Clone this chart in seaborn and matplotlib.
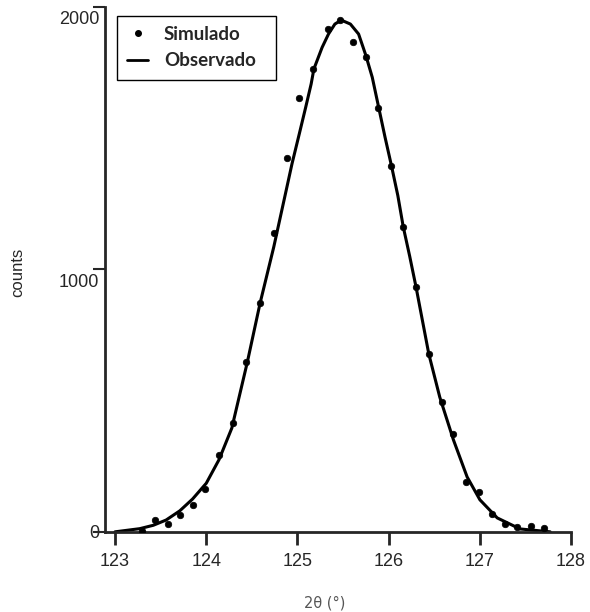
import matplotlib
matplotlib.use('Agg')
import matplotlib.pyplot as plt
import matplotlib.transforms as mtransforms
from matplotlib.lines import Line2D
import seaborn as sns
import pandas as pd

# ── Data ──────────────────────────────────────────────────────────────────────
sim_theta = [123.30, 123.44, 123.58, 123.71, 123.86, 123.99, 124.14, 124.29,
             124.44, 124.59, 124.74, 124.88, 125.02, 125.17, 125.33, 125.47,
             125.61, 125.75, 125.88, 126.03, 126.16, 126.30, 126.44, 126.58,
             126.71, 126.85, 126.99, 127.13, 127.28, 127.41, 127.56, 127.70]
sim_counts = [4, 46, 30, 65, 103, 163, 293, 414,
              646, 871, 1137, 1422, 1654, 1764, 1916, 1951,
              1867, 1810, 1616, 1392, 1160, 932, 677, 494,
              373, 190, 152, 68, 30, 19, 23, 15]

obs_theta = [123.00, 123.27, 123.42, 123.56, 123.71, 123.85, 124.00, 124.14,
             124.28, 124.45, 124.59, 124.74, 124.86, 124.94, 125.02, 125.09,
             125.15, 125.18, 125.27, 125.34, 125.41, 125.48, 125.58, 125.67,
             125.72, 125.75, 125.82, 125.89, 125.96, 126.03, 126.10, 126.16,
             126.23, 126.30, 126.44, 126.56, 126.71, 126.86, 127.00, 127.19,
             127.44, 127.77]
obs_counts = [0, 12, 25, 45, 80, 125, 185, 275,
              395, 646, 871, 1085, 1275, 1402, 1516, 1617,
              1706, 1763, 1845, 1896, 1934, 1949, 1934, 1896,
              1845, 1814, 1731, 1617, 1503, 1395, 1281, 1161,
              1050, 932, 677, 513, 350, 209, 122, 53,
              11, 0]

x_ticks = [123, 124, 125, 126, 127, 128]
y_ticks = [0, 1000, 2000]

sim = pd.DataFrame({'theta': sim_theta, 'counts': sim_counts})
obs = pd.DataFrame({'theta': obs_theta, 'counts': obs_counts})

# ── Figure ────────────────────────────────────────────────────────────────────
sns.set_style('ticks')
plt.rcParams['font.family'] = ['Liberation Sans', 'DejaVu Sans']

fig = plt.figure(figsize=(5.9, 6.12), dpi=100)
ax = fig.add_axes([0.178, 0.131, 0.790, 0.858])

sns.lineplot(data=obs, x='theta', y='counts', ax=ax, color='black',
             linewidth=2.2, estimator=None, sort=False)
sns.scatterplot(data=sim, x='theta', y='counts', ax=ax, color='black',
                s=22, edgecolor='black', linewidth=0.5, zorder=3)

ax.set_xlim(122.89, 128.0)
ax.set_ylim(0, 2000)
ax.set_xticks(x_ticks)
ax.set_yticks(y_ticks)
ax.set_xticklabels([str(t) for t in x_ticks])
ax.set_yticklabels([str(t) for t in y_ticks])

sns.despine(ax=ax)
for sp in ['left', 'bottom']:
    ax.spines[sp].set_linewidth(2)
ax.tick_params(axis='x', direction='out', length=9, width=2, pad=6,
               labelsize=13)
ax.tick_params(axis='y', direction='out', length=9, width=1.5, pad=-5,
               labelsize=13)

# scanned y labels sit a bit below their ticks
offset = mtransforms.ScaledTranslation(0, -11 / 100, fig.dpi_scale_trans)
for lab in ax.get_yticklabels()[1:]:
    lab.set_transform(lab.get_transform() + offset)

ax.set_xlabel('2θ (°)', fontsize=10.5, color='#555555',
              family=['DejaVu Sans'])
ax.xaxis.set_label_coords(0.472, -0.122)
ax.set_ylabel('counts', fontsize=12)
ax.yaxis.set_label_coords(-0.172, 0.495)

handles = [
    Line2D([], [], marker='o', color='black', linestyle='none', markersize=4),
    Line2D([], [], color='black', linewidth=2),
]
leg = ax.legend(handles, ['Simulado', 'Observado'], loc='upper left',
                bbox_to_anchor=(0.026, 0.5, 0.341, 0.483), mode='expand',
                borderaxespad=0, fancybox=False, framealpha=1,
                edgecolor='black', handlelength=1.1, handletextpad=0.85,
                borderpad=0.55, labelspacing=0.5,
                prop={'family': 'Lato', 'weight': 'bold', 'size': 13.5})
leg.get_frame().set_linewidth(1)

fig.savefig('out.png', dpi=100)
print("out.png")
